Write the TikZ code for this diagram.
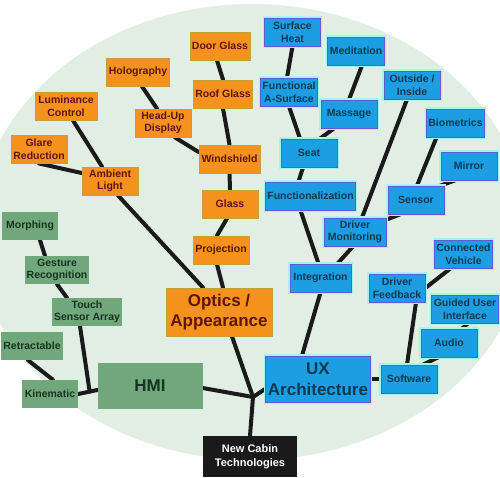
\documentclass[tikz,border=0pt]{standalone}
\usepackage{fontspec}
\setmainfont{Liberation Sans}
\usetikzlibrary{calc, backgrounds}
\definecolor{optfill}{HTML}{F5921E}
\definecolor{optedge}{HTML}{C2A03C}
\definecolor{opttext}{HTML}{5E1410}
\definecolor{hmifill}{HTML}{70A77B}
\definecolor{hmitext}{HTML}{173321}
\definecolor{uxfill}{HTML}{1D9EE3}
\definecolor{uxedge}{HTML}{5A5FD0}
\definecolor{uxhalo}{HTML}{A8F3F0}
\definecolor{uxtext}{HTML}{0D3A4E}
\definecolor{bgcol}{HTML}{E1EEE3}
\definecolor{linecol}{HTML}{1A1A1A}
\tikzset{
  leaf/.style={minimum width=56pt, minimum height=28pt, inner xsep=2pt, inner ysep=1pt,
    align=center, font=\fontsize{10.5}{12.5}\selectfont\bfseries},
  optleaf/.style={leaf, fill=optfill, draw=optedge, line width=0.9pt, text=opttext},
  hmileaf/.style={leaf, fill=hmifill, text=hmitext},
  uxleaf/.style={leaf, fill=uxfill, draw=uxedge, line width=0.8pt, text=uxtext,
    preaction={draw=uxhalo, line width=3.5pt}},
  trunk/.style={minimum width=105pt, minimum height=46pt, inner sep=1pt, align=center,
    font=\fontsize{17}{20.5}\selectfont\bfseries},
  branch/.style={draw=linecol, line width=4pt, line cap=round}
}

\begin{document}
\begin{tikzpicture}[x=1pt, y=-1pt]
  \useasboundingbox (0,0) rectangle (500,477);

  % root
  \node[fill=linecol, text=white, minimum width=94pt, minimum height=41pt, align=center,
    font=\fontsize{11}{14}\selectfont\bfseries] (root) at (250,456.5) {New Cabin\\Technologies};
  \coordinate (hub) at (253,397);

  % optics / appearance
  \node[trunk, fill=optfill, draw=optedge, line width=0.9pt, text=opttext, minimum width=106pt, minimum height=48pt] (optics) at (219,312) {Optics /\\Appearance};
  \node[optleaf] (proj) at (221,250) {Projection};
  \node[optleaf] (glass) at (230,204) {Glass};
  \node[optleaf, minimum width=61pt] (wind) at (229.5,159) {Windshield};
  \node[optleaf] (roof) at (223,94) {Roof Glass};
  \node[optleaf, minimum width=60pt] (door) at (220,46) {Door Glass};
  \node[optleaf] (hud) at (163,123) {Head-Up\\Display};
  \node[optleaf] (holo) at (138,72) {Holography};
  \node[optleaf] (amb) at (110,181) {Ambient\\Light};
  \node[optleaf] (glare) at (39,149) {Glare\\Reduction};
  \node[optleaf, minimum width=62pt] (lum) at (66,106) {Luminance\\Control};

  % hmi
  \node[trunk, fill=hmifill, text=hmitext] (hmi) at (150,386) {HMI};
  \node[hmileaf] (kin) at (50,394) {Kinematic};
  \node[hmileaf] (retr) at (32,346) {Retractable};
  \node[hmileaf] (touch) at (87,312) {Touch\\Sensor Array};
  \node[hmileaf] (gest) at (57,270) {Gesture\\Recognition};
  \node[hmileaf] (morph) at (30,226) {Morphing};

  % ux architecture
  \node[trunk, fill=uxfill, draw=uxedge, line width=0.8pt, text=uxtext, preaction={draw=uxhalo, line width=3.5pt}] (ux) at (318,379) {UX\\Architecture};
  \node[uxleaf] (sw) at (409,379) {Software};
  \node[uxleaf] (audio) at (449,343) {Audio};
  \node[uxleaf] (gui) at (465,309) {Guided User\\Interface};
  \node[uxleaf] (df) at (397,288) {Driver\\Feedback};
  \node[uxleaf] (cv) at (463.5,254) {Connected\\Vehicle};
  \node[uxleaf, minimum width=61pt] (integ) at (320.5,278) {Integration};
  \node[uxleaf, minimum width=62pt] (dm) at (355,232) {Driver\\Monitoring};
  \node[uxleaf] (sensor) at (416,200) {Sensor};
  \node[uxleaf] (mirror) at (469,166) {Mirror};
  \node[uxleaf] (bio) at (455.5,123) {Biometrics};
  \node[uxleaf] (out) at (412,85) {Outside /\\Inside};
  \node[uxleaf] (func) at (310.5,196) {Functionalization};
  \node[uxleaf] (seat) at (309,153) {Seat};
  \node[uxleaf] (fas) at (289,92) {Functional\\A-Surface};
  \node[uxleaf] (sh) at (292.5,32) {Surface\\Heat};
  \node[uxleaf] (mass) at (349,114) {Massage};
  \node[uxleaf] (med) at (356,51) {Meditation};

  \begin{scope}[on background layer]
    \fill[bgcol] (252,232) ellipse [x radius=275pt, y radius=228pt];

    % trunk
    \draw[branch] (root.north) -- (hub) -- ([yshift=-2pt]hmi.east);
    \draw[branch] (hub) -- ([xshift=13pt]optics.south);
    \draw[branch] (hub) -- ([yshift=-10pt]ux.west);

    % hmi branches
    \draw[branch] (kin.east) -- ([yshift=-4pt]hmi.west);
    \draw[branch] ([xshift=-7pt]touch.south) -- ($(kin.east)!0.6!([yshift=-4pt]hmi.west)$);
    \draw[branch] ([xshift=-4pt]retr.south) -- ([xshift=3pt]kin.north);
    \draw[branch] (gest.south) -- ([xshift=-20pt]touch.north);
    \draw[branch] ([xshift=10pt]morph.south) -- ([xshift=-12pt]gest.north);

    % optics branches
    \draw[branch] ([xshift=8pt]amb.south) -- ([xshift=-16pt]optics.north);
    \draw[branch] ([xshift=-4pt]proj.south) -- ([xshift=4pt]optics.north);
    \draw[branch] ([xshift=-4pt]proj.north) -- ([xshift=-3pt]glass.south);
    \draw[branch] (glass.north) -- (wind.south);
    \draw[branch] (wind.north) -- (roof.south);
    \draw[branch] (roof.north) -- ([xshift=-3pt]door.south);
    \draw[branch] ([yshift=7pt]wind.west) -- ([xshift=12pt]hud.south);
    \draw[branch] ([xshift=-6pt]hud.north) -- ([xshift=4pt]holo.south);
    \draw[branch] ([yshift=8pt]amb.west) -- (glare.south);
    \draw[branch] ([xshift=-8pt]amb.north) -- ([xshift=7pt]lum.south);

    % ux branches
    \draw[branch] ([xshift=-16pt]ux.north) -- (integ.south);
    \draw[branch] ([xshift=-2pt]integ.north) -- ([xshift=-10pt]func.south);
    \draw[branch] ([xshift=17pt]integ.north) -- ([xshift=-2pt]dm.south);
    \draw[branch] ([xshift=-12pt]func.north) -- ([xshift=-6pt]seat.south);
    \draw[branch] ([xshift=-9pt]seat.north) -- (fas.south);
    \draw[branch] ([xshift=-2pt]fas.north) -- (sh.south);
    \draw[branch] ([xshift=11pt]seat.north) -- ([xshift=-15pt]mass.south);
    \draw[branch] (mass.north) -- ([xshift=6pt]med.south);
    \draw[branch] ([xshift=7pt]dm.north) -- ([xshift=-5pt]out.south);
    \draw[branch] ([yshift=-2pt]dm.north east) -- ([xshift=-16pt]sensor.south);
    \draw[branch] ([xshift=1pt]sensor.north) -- ([xshift=-19pt]bio.south);
    \draw[branch] ([xshift=-4pt]sensor.north east) -- ([xshift=-14pt]mirror.south);
    \draw[branch] (ux.east) -- (sw.west);
    \draw[branch] ([xshift=-2pt]sw.north) -- ([xshift=19pt]df.south);
    \draw[branch] (df.east) -- ([xshift=-13pt]cv.south);
    \draw[branch] ([xshift=14pt]sw.north) -- ([xshift=-11pt]audio.south);
    \draw[branch] ([xshift=13pt]audio.north) -- ([xshift=3pt]gui.south);
  \end{scope}
\end{tikzpicture}
\end{document}
